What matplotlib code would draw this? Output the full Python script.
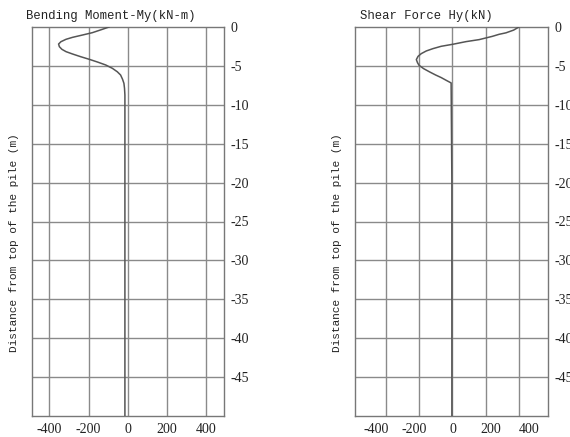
#!/usr/bin/env python3
import matplotlib
matplotlib.use("Agg")
import matplotlib.pyplot as plt

# depth below pile top (m) and bending moment My (kN-m)
moment_depth = [0, -0.3, -0.73, -1.03, -1.33, -1.58, -1.89, -2.19, -2.53, -2.87,
                -3.17, -3.47, -3.82, -4.15, -4.5, -4.88, -5.31, -5.75, -6.17,
                -6.72, -7.24, -7.88, -8.74, -20, -35, -50]
moment_vals = [-96, -130, -181, -231, -282, -315, -341, -353, -349, -336,
               -315, -282, -240, -197, -155, -113, -79, -54, -37,
               -27, -20, -17, -15, -15, -15, -15]

# depth below pile top (m) and shear force Hy (kN)
shear_depth = [0, -0.4, -0.75, -0.94, -1.2, -1.62, -1.88, -2.22, -2.48, -2.78,
               -3.08, -3.42, -3.77, -4.19, -4.58, -4.92, -5.35, -5.78, -6.17,
               -6.5, -6.85, -7.19, -20, -35, -50]
shear_vals = [348, 320, 280, 244, 209, 140, 71, 2, -59, -102,
              -137, -163, -180, -189, -183, -175, -151, -119, -88,
              -59, -33, -7, -3, -3, -3]

x_ticks = [-400, -200, 0, 200, 400]
y_grid = [0, -5, -10, -15, -20, -25, -30, -35, -40, -45]
shear_grid = [-350, -175, 0, 175, 350]

TXT_FONT = "Liberation Mono"
NUM_FONT = "Liberation Serif"
GRID_C = "#8a8a8a"
LINE_C = "#555555"


def setup_axes(ax, xlim, title, grid_x, title_x):
    ax.set_xlim(*xlim)
    ax.set_ylim(-50, 0)
    ax.set_xticks(x_ticks)
    ax.set_xticklabels([str(v) for v in x_ticks], fontfamily=NUM_FONT, fontsize=10)
    ax.set_yticks(y_grid)
    ax.set_yticklabels([str(v) for v in y_grid], fontfamily=NUM_FONT, fontsize=10)
    ax.yaxis.tick_right()
    ax.tick_params(axis="both", length=0, colors="#222222")
    ax.tick_params(axis="x", pad=5)
    ax.tick_params(axis="y", pad=5)
    for v in grid_x:
        ax.axvline(v, color=GRID_C, lw=1.0, zorder=1)
    for v in y_grid[1:]:
        ax.axhline(v, color=GRID_C, lw=1.0, zorder=1)
    for s in ax.spines.values():
        s.set_color("#777777")
        s.set_linewidth(1.0)
    ax.set_ylabel("Distance from top of the pile (m)", fontfamily=TXT_FONT,
                  fontsize=8, color="#222222")
    ax.yaxis.set_label_position("left")
    ax.yaxis.set_label_coords(-0.065, 0.445)
    ax.text(title_x, 1.012, title, transform=ax.transAxes, ha="center", va="bottom",
            fontfamily=TXT_FONT, fontsize=8.8, color="#222222")


def main():
    fig = plt.figure(figsize=(5.7, 4.37), dpi=100)
    ax1 = fig.add_axes([31.7 / 570, 1 - 416 / 437, (224 - 31.7) / 570, 389 / 437])
    ax2 = fig.add_axes([355 / 570, 1 - 416 / 437, (548 - 355) / 570, 389 / 437])

    setup_axes(ax1, (-490, 490), "Bending Moment-My(kN-m)", x_ticks, 0.41)
    ax1.plot(moment_vals, moment_depth, color=LINE_C, lw=1.1, zorder=3)

    setup_axes(ax2, (-510, 500), "Shear Force Hy(kN)", shear_grid, 0.37)
    ax2.plot(shear_vals, shear_depth, color=LINE_C, lw=1.1, zorder=3)

    fig.savefig("out.png", dpi=100)
    plt.close(fig)


if __name__ == "__main__":
    main()
